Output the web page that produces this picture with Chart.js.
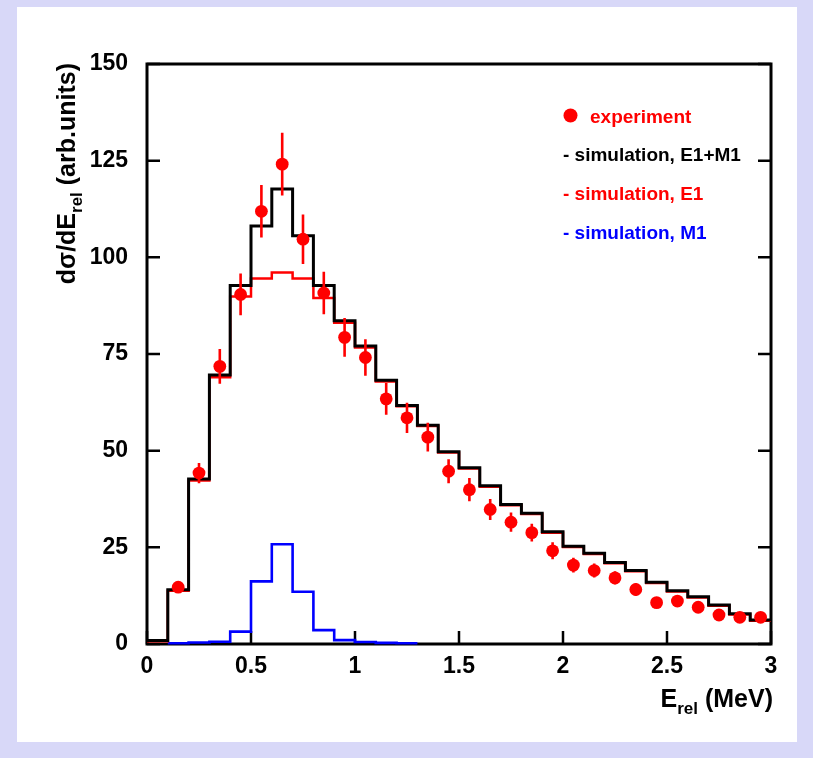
<!DOCTYPE html>
<html>
<head>
<meta charset="utf-8">
<script src="https://cdn.jsdelivr.net/npm/chart.js@4/dist/chart.umd.min.js"></script>
<style>
  html, body { margin: 0; padding: 0; background: #d8d8f8; }
  #wrap { width: 813px; height: 758px; position: relative; }
</style>
</head>
<body>
<div id="wrap"><canvas id="c" width="813" height="758"></canvas></div>
<script>
// Relative-energy spectrum: measured points and simulated histograms (0.1 MeV bins)
const binWidth = 0.1;
const binLow = [0.0, 0.1, 0.2, 0.3, 0.4, 0.5, 0.6, 0.7, 0.8, 0.9,
                1.0, 1.1, 1.2, 1.3, 1.4, 1.5, 1.6, 1.7, 1.8, 1.9,
                2.0, 2.1, 2.2, 2.3, 2.4, 2.5, 2.6, 2.7, 2.8, 2.9];

// simulation, E1+M1
const simSum = [0.9, 14.0, 42.7, 69.6, 92.7, 108.1, 117.7, 105.6, 92.7, 83.6,
                77.1, 68.2, 61.7, 56.6, 49.7, 45.6, 40.9, 36.1, 33.8, 29.0,
                25.3, 23.5, 21.1, 19.0, 16.0, 13.8, 12.2, 10.1, 7.8, 6.2];

// simulation, E1
const simE1 = [0.7, 13.8, 42.3, 69.0, 89.9, 94.5, 96.1, 94.5, 89.5, 83.1,
               76.7, 67.9, 61.5, 56.4, 49.5, 45.4, 40.7, 35.9, 33.6, 28.8,
               25.1, 23.3, 20.9, 18.8, 15.8, 13.6, 12.0, 9.9, 7.6, 6.0];

// simulation, M1 (bins 0.1 .. 1.3 MeV)
const m1Low = [0.1, 0.2, 0.3, 0.4, 0.5, 0.6, 0.7, 0.8, 0.9, 1.0, 1.1, 1.2];
const simM1 = [0.2, 0.4, 0.6, 3.2, 16.2, 25.8, 13.5, 3.6, 1.0, 0.5, 0.3, 0.2];

// experiment (bin centres, values, uncertainties)
const expE = [0.15, 0.25, 0.35, 0.45, 0.55, 0.65, 0.75, 0.85, 0.95, 1.05,
              1.15, 1.25, 1.35, 1.45, 1.55, 1.65, 1.75, 1.85, 1.95, 2.05,
              2.15, 2.25, 2.35, 2.45, 2.55, 2.65, 2.75, 2.85, 2.95];
const expVal = [14.7, 44.2, 71.8, 90.4, 111.9, 124.1, 104.7, 90.8, 79.3, 74.1,
                63.4, 58.5, 53.5, 44.7, 39.9, 34.8, 31.5, 28.8, 24.1, 20.4,
                19.0, 17.1, 14.1, 10.7, 11.1, 9.5, 7.5, 6.9, 6.9];
const expErr = [1.2, 2.6, 4.5, 5.4, 6.8, 8.1, 6.4, 5.5, 5.0, 4.7,
                4.1, 3.9, 3.7, 3.1, 3.0, 2.7, 2.5, 2.3, 2.2, 1.9,
                1.8, 1.7, 1.6, 1.4, 1.4, 1.3, 1.2, 1.1, 1.1];

const yTicks = [0, 25, 50, 75, 100, 125, 150];
const xTicks = [0, 0.5, 1, 1.5, 2, 2.5, 3];

const legendItems = [
  { text: 'experiment', color: '#ff0000', marker: true },
  { text: '- simulation, E1+M1', color: '#000000' },
  { text: '- simulation, E1', color: '#ff0000' },
  { text: '- simulation, M1', color: '#0000ff' }
];

const FONT = '"Liberation Sans", Arial, Helvetica, sans-serif';

// histogram outline: one point per bin low edge plus the closing edge
function histPoints(lows, vals) {
  const pts = lows.map((x, i) => ({ x: x, y: vals[i] }));
  pts.push({ x: +(lows[lows.length - 1] + binWidth).toFixed(2), y: vals[vals.length - 1] });
  return pts;
}

// horizontal run at each bin's value, vertical jump at the next edge
const histStyle = { showLine: true, stepped: 'before', pointRadius: 0, pointHoverRadius: 0, fill: false, clip: false };

const pagePlugin = {
  id: 'page',
  beforeDraw(chart) {
    const ctx = chart.ctx;
    ctx.save();
    ctx.fillStyle = '#d8d8f8';
    ctx.fillRect(0, 0, chart.width, chart.height);
    ctx.fillStyle = '#ffffff';
    ctx.fillRect(17, 7, 780, 735);
    ctx.restore();
  },
  beforeDatasetsDraw(chart) {
    const ctx = chart.ctx, a = chart.chartArea;
    const xs = chart.scales.x, ys = chart.scales.y;
    ctx.save();
    ctx.strokeStyle = '#000';
    ctx.lineWidth = 2.5;
    // inward ticks: bottom, left and right
    ctx.beginPath();
    xTicks.forEach(v => {
      const px = xs.getPixelForValue(v);
      ctx.moveTo(px, a.bottom); ctx.lineTo(px, a.bottom - 13);
    });
    yTicks.forEach(v => {
      const py = ys.getPixelForValue(v);
      ctx.moveTo(a.left, py); ctx.lineTo(a.left + 13, py);
      ctx.moveTo(a.right, py); ctx.lineTo(a.right - 13, py);
    });
    ctx.stroke();
    // frame
    ctx.lineWidth = 3;
    ctx.strokeRect(a.left, a.top, a.right - a.left, a.bottom - a.top);
    ctx.restore();
  },
  afterDatasetsDraw(chart) {
    const ctx = chart.ctx;
    const xs = chart.scales.x, ys = chart.scales.y;
    ctx.save();
    ctx.strokeStyle = '#ff0000';
    ctx.lineWidth = 2.6;
    ctx.beginPath();
    expE.forEach((e, i) => {
      const px = xs.getPixelForValue(e);
      ctx.moveTo(px, ys.getPixelForValue(expVal[i] - expErr[i]));
      ctx.lineTo(px, ys.getPixelForValue(expVal[i] + expErr[i]));
    });
    ctx.stroke();
    ctx.restore();
  },
  afterDraw(chart) {
    const ctx = chart.ctx, a = chart.chartArea;
    ctx.save();
    // legend
    ctx.font = 'bold 19px ' + FONT;
    ctx.textBaseline = 'alphabetic';
    ctx.textAlign = 'left';
    const rows = [123, 161, 200, 238.5];
    legendItems.forEach((it, i) => {
      ctx.fillStyle = it.color;
      if (it.marker) {
        ctx.beginPath();
        ctx.arc(570.5, 115.5, 7, 0, Math.PI * 2);
        ctx.fill();
        ctx.fillText(it.text, 590, rows[i]);
      } else {
        ctx.fillText(it.text, 563, rows[i]);
      }
    });

    // x-axis title: E_rel (MeV), right aligned to the frame
    const big = 'bold 25px ' + FONT, small = 'bold 17px ' + FONT;
    ctx.fillStyle = '#000';
    ctx.font = big;
    const wUnit = ctx.measureText(' (MeV)').width;
    const wE = ctx.measureText('E').width;
    ctx.font = small;
    const wSub = ctx.measureText('rel').width;
    let x0 = a.right + 2 - (wE + wSub + wUnit);
    const base = 707;
    ctx.font = big; ctx.fillText('E', x0, base);
    ctx.font = small; ctx.fillText('rel', x0 + wE, base + 7);
    ctx.font = big; ctx.fillText(' (MeV)', x0 + wE + wSub, base);

    // y-axis title: dσ/dE_rel (arb.units), rotated, ending at the frame top
    ctx.translate(75, 0);
    ctx.rotate(-Math.PI / 2);
    ctx.font = big;
    const w1 = ctx.measureText('dσ/dE').width;
    const w3 = ctx.measureText(' (arb.units)').width;
    ctx.font = small;
    const w2 = ctx.measureText('rel').width;
    const end = -(a.top - 1);
    let s = end - (w1 + w2 + w3);
    ctx.font = big; ctx.fillText('dσ/dE', s, 0);
    ctx.font = small; ctx.fillText('rel', s + w1, 7);
    ctx.font = big; ctx.fillText(' (arb.units)', s + w1 + w2, 0);
    ctx.restore();
  }
};

new Chart(document.getElementById('c'), {
  type: 'scatter',
  data: {
    datasets: [
      {
        label: 'experiment',
        data: expE.map((e, i) => ({ x: e, y: expVal[i] })),
        showLine: false,
        pointRadius: 6.4,
        pointHoverRadius: 6.4,
        pointBackgroundColor: '#ff0000',
        pointBorderWidth: 0,
        borderColor: '#ff0000',
        clip: false
      },
      Object.assign({ label: 'simulation, E1+M1', data: histPoints(binLow, simSum), borderColor: '#000000', borderWidth: 3 }, histStyle),
      Object.assign({ label: 'simulation, E1', data: histPoints(binLow, simE1), borderColor: '#ff0000', borderWidth: 2.5 }, histStyle),
      Object.assign({ label: 'simulation, M1', data: histPoints(m1Low, simM1), borderColor: '#0000ff', borderWidth: 2.6 }, histStyle)
    ]
  },
  options: {
    responsive: false,
    animation: false,
    devicePixelRatio: 1,
    layout: { padding: { left: 0, top: 64, right: 42, bottom: 0 } },
    plugins: { legend: { display: false }, tooltip: { enabled: false }, title: { display: false } },
    scales: {
      x: {
        type: 'linear', min: 0, max: 3,
        afterBuildTicks: s => { s.ticks = xTicks.map(v => ({ value: v })); },
        afterFit: s => { s.height = 114; },
        grid: { display: false, drawTicks: false },
        border: { display: false },
        ticks: { color: '#000', padding: 9, font: { family: FONT, size: 23, weight: 'bold' },
                 callback: v => String(v), maxRotation: 0, autoSkip: false }
      },
      y: {
        type: 'linear', min: 0, max: 150,
        afterBuildTicks: s => { s.ticks = yTicks.map(v => ({ value: v })); },
        afterFit: s => { s.width = 147; },
        grid: { display: false, drawTicks: false },
        border: { display: false },
        ticks: { color: '#000', padding: 19, font: { family: FONT, size: 23, weight: 'bold' },
                 callback: v => String(v), autoSkip: false }
      }
    }
  },
  plugins: [pagePlugin]
});
</script>
</body>
</html>
